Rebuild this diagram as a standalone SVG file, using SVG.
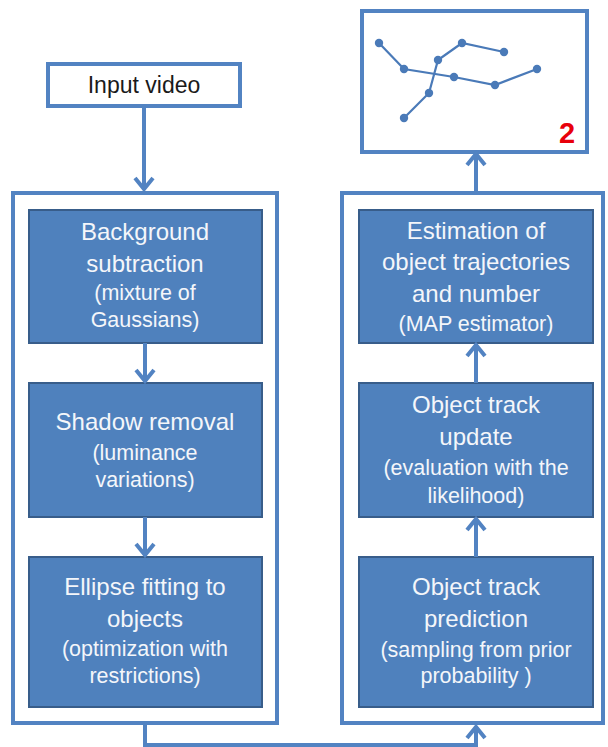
<svg xmlns="http://www.w3.org/2000/svg" width="608" height="747" viewBox="0 0 608 747">
<defs>
<style>
.frame{fill:#ffffff;stroke:#5283C2;stroke-width:4}
.box{fill:#4F81BD;stroke:#385D8A;stroke-width:2}
.big{font-family:"Liberation Sans",Arial,sans-serif;font-size:24px;fill:#F4F6FA;text-anchor:middle}
.sm{font-family:"Liberation Sans",Arial,sans-serif;font-size:21.5px;fill:#F4F6FA;text-anchor:middle}
.conn{fill:none;stroke:#5283C2;stroke-width:4}
.traj{fill:none;stroke:#4A7AB8;stroke-width:2.2}
.dot{fill:#4A7AB8}
</style>
<marker id="arr" markerUnits="userSpaceOnUse" markerWidth="24" markerHeight="24" viewBox="0 0 24 24" refX="14" refY="12" orient="auto">
<path d="M3,3 L14,12 L3,21" fill="none" stroke="#5283C2" stroke-width="4"/>
</marker>
</defs>
<rect width="608" height="747" fill="#ffffff"/>

<g id="input">
<rect class="frame" x="48" y="64" width="192" height="42"/>
<text x="144" y="93" font-family="Liberation Sans,Arial,sans-serif" font-size="23" fill="#1a1a1a" text-anchor="middle">Input video</text>
</g>

<g id="output">
<rect class="frame" x="362" y="11" width="225" height="141"/>
<g id="trajectories">
<polyline class="traj" points="379,43 404,69 454,77 495,85 537,69"/>
<polyline class="traj" points="404,118 429,93 438,60 462,43 504,52"/>
<circle class="dot" cx="379" cy="43" r="4.2"/>
<circle class="dot" cx="404" cy="69" r="4.2"/>
<circle class="dot" cx="454" cy="77" r="4.2"/>
<circle class="dot" cx="495" cy="85" r="4.2"/>
<circle class="dot" cx="537" cy="69" r="4.2"/>
<circle class="dot" cx="404" cy="118" r="4.2"/>
<circle class="dot" cx="429" cy="93" r="4.2"/>
<circle class="dot" cx="438" cy="60" r="4.2"/>
<circle class="dot" cx="462" cy="43" r="4.2"/>
<circle class="dot" cx="504" cy="52" r="4.2"/>
</g>
<text x="567" y="143" font-family="Liberation Sans,Arial,sans-serif" font-size="29" font-weight="bold" fill="#E8000B" text-anchor="middle">2</text>
</g>

<g id="left-group">
<rect class="frame" x="13" y="193" width="264" height="530"/>
</g>
<g id="right-group">
<rect class="frame" x="342" y="193" width="261" height="530"/>
</g>

<g id="bg-sub">
<rect class="box" x="29" y="210" width="233" height="133"/>
<text class="big" x="145" y="240">Background</text>
<text class="big" x="145" y="272">subtraction</text>
<text class="sm" x="145" y="300">(mixture of</text>
<text class="sm" x="145" y="327">Gaussians)</text>
</g>

<g id="shadow">
<rect class="box" x="29" y="383" width="233" height="134"/>
<text class="big" x="145" y="430">Shadow removal</text>
<text class="sm" x="145" y="460">(luminance</text>
<text class="sm" x="145" y="487">variations)</text>
</g>

<g id="ellipse">
<rect class="box" x="29" y="557" width="233" height="150"/>
<text class="big" x="145" y="595">Ellipse fitting to</text>
<text class="big" x="145" y="627">objects</text>
<text class="sm" x="145" y="656">(optimization with</text>
<text class="sm" x="145" y="683">restrictions)</text>
</g>

<g id="estimation">
<rect class="box" x="359" y="210" width="234" height="133"/>
<text class="big" x="476" y="239">Estimation of</text>
<text class="big" x="476" y="270">object trajectories</text>
<text class="big" x="476" y="302">and number</text>
<text class="sm" x="476" y="331">(MAP estimator)</text>
</g>

<g id="update">
<rect class="box" x="359" y="383" width="234" height="134"/>
<text class="big" x="476" y="413">Object track</text>
<text class="big" x="476" y="445">update</text>
<text class="sm" x="476" y="475">(evaluation with the</text>
<text class="sm" x="476" y="503">likelihood)</text>
</g>

<g id="prediction">
<rect class="box" x="359" y="557" width="234" height="150"/>
<text class="big" x="476" y="595">Object track</text>
<text class="big" x="476" y="627">prediction</text>
<text class="sm" x="476" y="657">(sampling from prior</text>
<text class="sm" x="476" y="683">probability )</text>
</g>

<g id="connectors">
<line class="conn" x1="144" y1="106" x2="144" y2="189" marker-end="url(#arr)"/>
<line class="conn" x1="145" y1="343" x2="145" y2="381" marker-end="url(#arr)"/>
<line class="conn" x1="145" y1="517" x2="145" y2="555" marker-end="url(#arr)"/>
<line class="conn" x1="476" y1="557" x2="476" y2="519" marker-end="url(#arr)"/>
<line class="conn" x1="476" y1="383" x2="476" y2="345" marker-end="url(#arr)"/>
<line class="conn" x1="476" y1="191" x2="476" y2="154" marker-end="url(#arr)"/>
<polyline class="conn" points="145,725 145,745 476,745 476,727" marker-end="url(#arr)"/>
</g>
</svg>
